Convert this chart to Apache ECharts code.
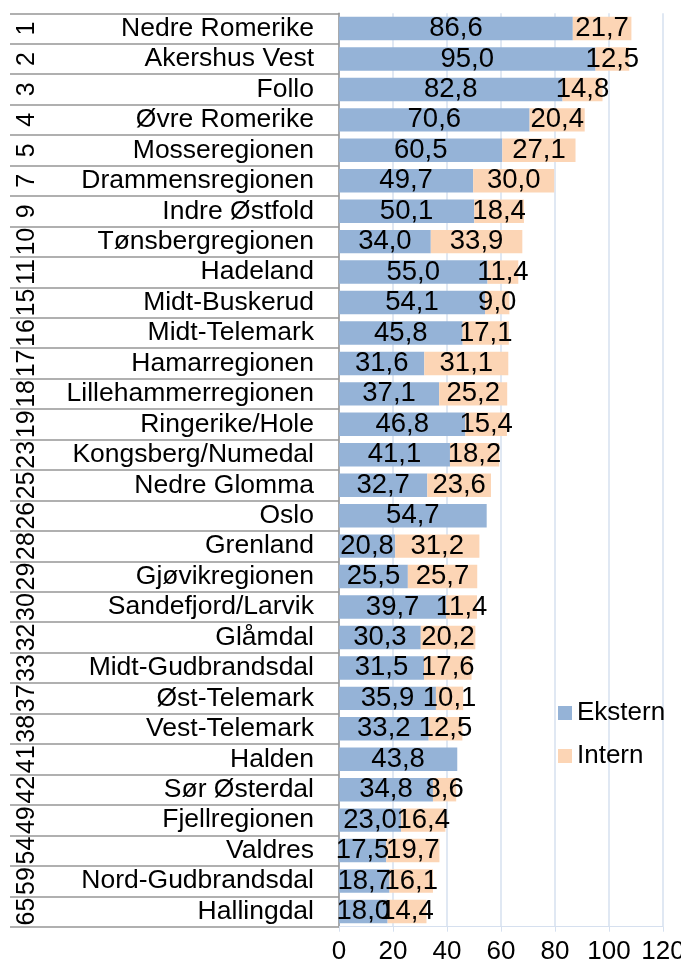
<!DOCTYPE html>
<html>
<head>
<meta charset="utf-8">
<style>
  html, body { margin: 0; padding: 0; background: #fff; }
  #chart { width: 681px; height: 959px; }
</style>
<script src="https://cdn.jsdelivr.net/npm/echarts@6/dist/echarts.min.js"></script>
</head>
<body>
<div id="chart"></div>
<script>
const FONT = "'Liberation Sans', Arial, Helvetica, sans-serif";

const ranks = ['1', '2', '3', '4', '5', '7', '9', '10', '11', '15', '16', '17', '18', '19', '23',
  '25', '26', '28', '29', '30', '32', '33', '37', '38', '41', '42', '49', '54', '59', '65'];

const regions = ['Nedre Romerike', 'Akershus Vest', 'Follo', 'Øvre Romerike', 'Mosseregionen',
  'Drammensregionen', 'Indre Østfold', 'Tønsbergregionen', 'Hadeland', 'Midt-Buskerud',
  'Midt-Telemark', 'Hamarregionen', 'Lillehammerregionen', 'Ringerike/Hole', 'Kongsberg/Numedal',
  'Nedre Glomma', 'Oslo', 'Grenland', 'Gjøvikregionen', 'Sandefjord/Larvik', 'Glåmdal',
  'Midt-Gudbrandsdal', 'Øst-Telemark', 'Vest-Telemark', 'Halden', 'Sør Østerdal',
  'Fjellregionen', 'Valdres', 'Nord-Gudbrandsdal', 'Hallingdal'];

const ekstern = [86.6, 95.0, 82.8, 70.6, 60.5, 49.7, 50.1, 34.0, 55.0, 54.1, 45.8, 31.6, 37.1, 46.8, 41.1,
  32.7, 54.7, 20.8, 25.5, 39.7, 30.3, 31.5, 35.9, 33.2, 43.8, 34.8, 23.0, 17.5, 18.7, 18.0];

const intern = [21.7, 12.5, 14.8, 20.4, 27.1, 30.0, 18.4, 33.9, 11.4, 9.0, 17.1, 31.1, 25.2, 15.4, 18.2,
  23.6, null, 31.2, 25.7, 11.4, 20.2, 17.6, 10.1, 12.5, null, 8.6, 16.4, 19.7, 16.1, 14.4];

const xTicks = [0, 20, 40, 60, 80, 100, 120];

const GRID_LINE = '#d6e0ef';
const SEP_LINE = '#969696';

const fmt = (p) => p.value == null ? '' : p.value.toFixed(1).replace('.', ',');

const chart = echarts.init(document.getElementById('chart'), null, { renderer: 'canvas' });

chart.setOption({
  animation: false,
  textStyle: { fontFamily: FONT },
  grid: { left: 339, right: 18, top: 13.3, bottom: 32.3, containLabel: false, outerBoundsMode: 'none' },
  legend: {
    orient: 'vertical',
    left: 553,
    top: 695,
    itemWidth: 14,
    itemHeight: 14,
    itemGap: 17,
    icon: 'rect',
    textStyle: { fontSize: 26, color: '#000', fontFamily: FONT },
    data: ['Ekstern', 'Intern']
  },
  xAxis: {
    type: 'value',
    min: xTicks[0],
    max: xTicks[xTicks.length - 1],
    interval: 20,
    axisLine: { show: true, lineStyle: { color: GRID_LINE, width: 1 } },
    axisTick: { show: true, length: 5, lineStyle: { color: GRID_LINE } },
    axisLabel: { fontSize: 26, color: '#000', margin: 12, fontFamily: FONT },
    splitLine: { show: true, lineStyle: { color: GRID_LINE, width: 1.5 } }
  },
  yAxis: [
    {
      type: 'category',
      inverse: true,
      data: regions,
      axisLine: { show: true, lineStyle: { color: SEP_LINE, width: 1.5 } },
      axisTick: { show: true, interval: 0, length: 329, lineStyle: { color: SEP_LINE, width: 1.5 } },
      axisLabel: { interval: 0, fontSize: 26.5, color: '#000', margin: 25, fontFamily: FONT }
    },
    {
      type: 'category',
      inverse: true,
      position: 'left',
      offset: 329,
      data: ranks,
      axisLine: { show: false },
      axisTick: { show: false },
      axisLabel: {
        interval: 0,
        inside: true,
        rotate: 90,
        margin: 17,
        align: 'center',
        verticalAlign: 'middle',
        fontSize: 25,
        color: '#000',
        fontFamily: FONT
      }
    }
  ],
  series: [
    {
      name: 'Ekstern',
      type: 'bar',
      stack: 'total',
      yAxisIndex: 0,
      barCategoryGap: '23%',
      data: ekstern,
      itemStyle: { color: '#95b3d7' },
      label: { show: true, position: 'inside', color: '#000', fontSize: 27.5, fontFamily: FONT, formatter: fmt }
    },
    {
      name: 'Intern',
      type: 'bar',
      stack: 'total',
      yAxisIndex: 0,
      barCategoryGap: '23%',
      data: intern,
      itemStyle: { color: '#fcd5b5' },
      label: { show: true, position: 'inside', color: '#000', fontSize: 27.5, fontFamily: FONT, formatter: fmt }
    }
  ]
});
</script>
</body>
</html>
